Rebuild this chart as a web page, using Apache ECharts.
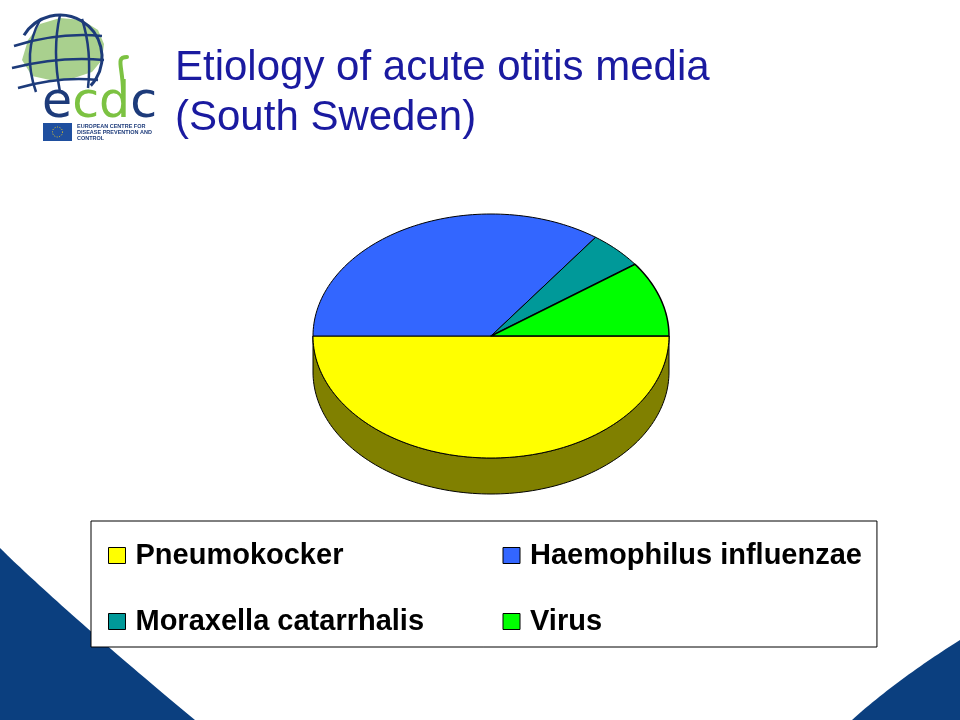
<!DOCTYPE html>
<html>
<head>
<meta charset="utf-8">
<script src="https://cdn.jsdelivr.net/npm/echarts@6/dist/echarts.min.js"></script>
<style>
html,body{margin:0;padding:0;background:#fff;}
#chart{width:960px;height:720px;}
</style>
</head>
<body>
<div id="chart"></div>
<script>
// ---- data ----
const categories = ['Pneumokocker', 'Haemophilus influenzae', 'Moraxella catarrhalis', 'Virus'];
const values = [50, 35, 5, 10];
const sliceColors = ['#FFFF00', '#3366FF', '#009999', '#00FF00'];
const sideColors = ['#808000', '#1a337f', '#004c4c', '#007f00'];
const titleText = 'Etiology of acute otitis media\n(South Sweden)';

// ---- 3D pie geometry ----
const PIE = { cx: 491, cy: 336, rx: 178, ry: 122, depth: 36 };

function renderSlice(params, api) {
  const si = params.seriesIndex;
  const total = values.reduce((a, b) => a + b, 0);
  let before = 0;
  for (let i = 0; i < si; i++) before += values[i];
  const v = api.value(0);
  const t0 = -before / total * 2 * Math.PI;
  const t1 = -(before + v) / total * 2 * Math.PI;
  const pt = (t, dy) => [PIE.cx + PIE.rx * Math.cos(t), PIE.cy - PIE.ry * Math.sin(t) + (dy || 0)];
  const arc = (a, b, dy) => {
    const n = Math.max(2, Math.ceil(Math.abs(a - b) / (Math.PI / 120)));
    const out = [];
    for (let k = 0; k <= n; k++) out.push(pt(a + (b - a) * k / n, dy));
    return out;
  };
  const children = [];
  const a = Math.min(t0, 0), b = Math.max(t1, -Math.PI);
  if (a > b + 1e-9) {
    const side = arc(a, b, 0).concat(arc(b, a, PIE.depth));
    children.push({
      type: 'polygon', shape: { points: side },
      style: { fill: sideColors[si], stroke: '#000', lineWidth: 1 }
    });
  }
  const top = [[PIE.cx, PIE.cy]].concat(arc(t0, t1, 0));
  children.push({
    type: 'polygon', shape: { points: top },
    style: { fill: sliceColors[si], stroke: '#000', lineWidth: si === 3 ? 1.5 : 1, lineJoin: 'round' }
  });
  return { type: 'group', children };
}

const series = categories.map((name, i) => ({
  type: 'custom',
  name: name,
  coordinateSystem: 'none',
  silent: true,
  itemStyle: { color: sliceColors[i] },
  renderItem: renderSlice,
  data: [[values[i]]]
}));

// ---- decorative slide graphics (background + logo) ----
function cubicPts(p0, c1, c2, p3, n) {
  const out = [];
  for (let k = 0; k <= n; k++) {
    const t = k / n, u = 1 - t;
    out.push([
      u*u*u*p0[0] + 3*u*u*t*c1[0] + 3*u*t*t*c2[0] + t*t*t*p3[0],
      u*u*u*p0[1] + 3*u*u*t*c1[1] + 3*u*t*t*c2[1] + t*t*t*p3[1]
    ]);
  }
  return out;
}
const navy = '#0b3f7f';
const logoBlue = '#1d3b7a';
const logoGreen = '#7cc242';
const leftShape = cubicPts([0,548],[30,578],[110,650],[195,720],40).concat([[0,720]]);
const rightShape = cubicPts([960,640],[925,662],[885,690],[852,720],30).concat([[960,720]]);
const qline = (x1,y1,cx,cy,x2,y2) => ({ type: 'bezierCurve', z: 2,
  shape: { x1: x1, y1: y1, cpx1: cx, cpy1: cy, x2: x2, y2: y2 },
  style: { stroke: logoBlue, lineWidth: 2.5, fill: 'none' } });
const graphic = [
  { type: 'polygon', z: 0, shape: { points: leftShape }, style: { fill: navy } },
  { type: 'polygon', z: 0, shape: { points: rightShape }, style: { fill: navy } },
  // globe
  { type: 'polygon', z: 1, shape: { points: [[28,40],[40,24],[60,18],[82,20],[98,30],[104,44],[102,60],[92,72],[74,78],[50,80],[32,76],[22,60]] }, style: { fill: '#a9d08e' } },
  { type: 'arc', z: 2, shape: { cx: 60, cy: 57, r: 42, startAngle: -2.6, endAngle: 0.75 }, style: { stroke: logoBlue, lineWidth: 3, fill: 'none' } },
  qline(40,20, 22,52, 36,92),
  qline(60,15, 52,50, 60,92),
  qline(82,19, 92,50, 88,88),
  qline(14,46, 58,32, 102,36),
  qline(12,68, 60,56, 104,60),
  qline(18,88, 60,76, 98,80),
  // ecdc letters
  { type: 'text', z: 3, left: 42, top: 80, style: {
      text: '{b|e}{g|cd}{b|c}',
      rich: {
        b: { fill: logoBlue, fontSize: 49, fontFamily: 'DejaVu Sans' },
        g: { fill: logoGreen, fontSize: 49, fontFamily: 'DejaVu Sans' }
      } } },
  { type: 'bezierCurve', z: 3, shape: { x1: 123, y1: 92, cpx1: 123, cpy1: 66, cpx2: 115, cpy2: 57, x2: 127, y2: 57 },
    style: { stroke: logoGreen, lineWidth: 4, fill: 'none', lineCap: 'round' } },
  // EU flag + text
  { type: 'rect', z: 3, shape: { x: 43, y: 123, width: 29, height: 18 }, style: { fill: '#1f4f9f' } },
  { type: 'circle', z: 4, shape: { cx: 57.5, cy: 132, r: 5 }, style: { fill: 'none', stroke: '#f2d024', lineWidth: 1, lineDash: [1, 1.5] } },
  { type: 'text', z: 3, left: 77, top: 123, style: {
      text: 'EUROPEAN CENTRE FOR\nDISEASE PREVENTION AND\nCONTROL',
      fill: logoBlue, font: 'bold 5.5px "Liberation Sans", Arial, sans-serif', lineHeight: 6.3 } }
];

const chart = echarts.init(document.getElementById('chart'), null, { renderer: 'canvas' });
chart.setOption({
  backgroundColor: '#ffffff',
  animation: false,
  title: {
    text: titleText,
    left: 170,
    top: 38,
    textStyle: {
      color: '#1a1aa0',
      fontFamily: '"Liberation Sans", Arial, sans-serif',
      fontWeight: 'normal',
      fontSize: 42,
      lineHeight: 50
    }
  },
  legend: {
    data: categories,
    left: 91,
    top: 521,
    width: 760,
    orient: 'horizontal',
    padding: [20, 15, 11, 17],
    itemGap: 37,
    itemWidth: 17,
    itemHeight: 16,
    icon: 'rect',
    borderColor: '#000',
    borderWidth: 1,
    backgroundColor: '#ffffff',
    selectedMode: false,
    itemStyle: { borderColor: '#000', borderWidth: 1 },
    textStyle: {
      color: '#000',
      fontFamily: '"Liberation Sans", Arial, sans-serif',
      fontWeight: 'bold',
      fontSize: 29,
      lineHeight: 28,
      width: 330,
      padding: [0, 0, 0, 5]
    }
  },
  graphic: graphic,
  series: series
});
</script>
</body>
</html>
